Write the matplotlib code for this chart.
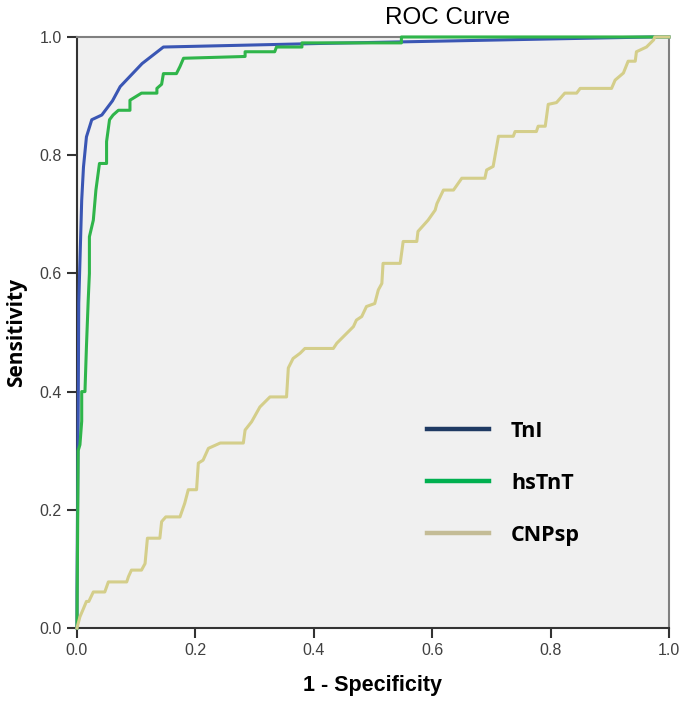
import matplotlib.pyplot as plt
from matplotlib.lines import Line2D

# ROC points (1 - specificity, sensitivity)
tni_fpr = [0.0, 0.0, 0.002, 0.003, 0.005, 0.008, 0.011, 0.016, 0.025, 0.042, 0.06, 0.073,
           0.11, 0.146, 0.41, 0.97, 1.0]
tni_tpr = [0.0, 0.06, 0.35, 0.55, 0.62, 0.724, 0.78, 0.831, 0.86, 0.868, 0.892, 0.916,
           0.955, 0.983, 0.989, 1.0, 1.0]

hs_fpr = [0.0, 0.002, 0.005, 0.008, 0.008, 0.0135, 0.016, 0.019, 0.021, 0.021, 0.0276,
          0.032, 0.038, 0.05, 0.05, 0.055, 0.061, 0.07, 0.0895, 0.0895, 0.109, 0.135,
          0.135, 0.143, 0.146, 0.168, 0.174, 0.18, 0.284, 0.284, 0.334, 0.337, 0.38,
          0.38, 0.548, 0.548, 1.0]
hs_tpr = [0.0, 0.30, 0.31, 0.35, 0.40, 0.40, 0.476, 0.555, 0.60, 0.662, 0.69,
          0.741, 0.786, 0.786, 0.823, 0.86, 0.868, 0.876, 0.876, 0.893, 0.905, 0.905,
          0.913, 0.92, 0.938, 0.938, 0.95, 0.964, 0.967, 0.975, 0.975, 0.983, 0.983,
          0.99, 0.99, 1.0, 1.0]

cnp_fpr = [0.0, 0.005, 0.011, 0.016, 0.02, 0.0276, 0.047, 0.053, 0.084, 0.087, 0.092, 0.109,
           0.115, 0.119, 0.14, 0.143, 0.15, 0.174, 0.182, 0.188, 0.202, 0.205, 0.213,
           0.222, 0.242, 0.281, 0.284, 0.295, 0.309, 0.326, 0.354, 0.357, 0.365, 0.377,
           0.385, 0.433, 0.439, 0.467, 0.472, 0.481, 0.489, 0.503, 0.509, 0.515, 0.517,
           0.546, 0.551, 0.574, 0.576, 0.593, 0.605, 0.608, 0.619, 0.636, 0.65, 0.689,
           0.692, 0.703, 0.712, 0.737, 0.74, 0.776, 0.779, 0.791, 0.796, 0.81, 0.824,
           0.844, 0.85, 0.903, 0.909, 0.923, 0.931, 0.943, 0.945, 0.962, 0.974, 0.976, 1.0]
cnp_tpr = [0.0, 0.019, 0.033, 0.045, 0.045, 0.061, 0.061, 0.078, 0.078, 0.087, 0.098, 0.098,
           0.109, 0.152, 0.152, 0.18, 0.188, 0.188, 0.211, 0.234, 0.234, 0.279, 0.284,
           0.304, 0.313, 0.313, 0.335, 0.349, 0.374, 0.391, 0.391, 0.44, 0.456, 0.465,
           0.473, 0.473, 0.482, 0.51, 0.521, 0.527, 0.544, 0.549, 0.572, 0.583, 0.617,
           0.617, 0.654, 0.654, 0.671, 0.690, 0.707, 0.718, 0.741, 0.741, 0.761, 0.761,
           0.775, 0.781, 0.832, 0.832, 0.84, 0.84, 0.849, 0.849, 0.886, 0.889, 0.905,
           0.905, 0.913, 0.913, 0.927, 0.939, 0.959, 0.959, 0.975, 0.983, 0.995, 1.0, 1.0]

labels = ['TnI', 'hsTnT', 'CNPsp']
curve_colors = ['#3a56b4', '#2fb54a', '#d4ce8a']
legend_colors = ['#1f3a63', '#00b050', '#c4bc96']
ticks = [0.0, 0.2, 0.4, 0.6, 0.8, 1.0]

fig = plt.figure(figsize=(6.86, 7.07), dpi=100)
ax = fig.add_axes([0.1122, 0.1117, 0.863, 0.836])
ax.set_facecolor('#f0f0f0')

for fpr, tpr, c in zip([tni_fpr, hs_fpr, cnp_fpr], [tni_tpr, hs_tpr, cnp_tpr], curve_colors):
    ax.plot(fpr, tpr, color=c, lw=2.2, clip_on=False, zorder=3)

ax.set_xlim(0, 1)
ax.set_ylim(0, 1)
ax.set_xticks(ticks)
ax.set_yticks(ticks)
ax.set_xticklabels([f'{t:.1f}' for t in ticks])
ax.set_yticklabels([f'{t:.1f}' for t in ticks])
ax.tick_params(length=7, width=1.5, color='#333333', labelsize=11.5,
               labelcolor='#404040', pad=4)
for lab in ax.get_xticklabels() + ax.get_yticklabels():
    lab.set_family('Liberation Sans')

for side in ['left', 'bottom']:
    ax.spines[side].set_color('#333333')
    ax.spines[side].set_linewidth(1.5)
for side in ['top', 'right']:
    ax.spines[side].set_color('#808080')
    ax.spines[side].set_linewidth(1.5)

ax.set_xlabel('1 - Specificity', fontsize=15.5, fontweight='bold',
              family='Liberation Sans', labelpad=12)
ax.set_ylabel('Sensitivity', fontsize=15, fontweight='bold',
              family='Open Sans', labelpad=9)
fig.text(0.653, 0.975, 'ROC Curve', fontsize=17.5, family='Liberation Sans',
         ha='center', va='center')

# legend sits in the lower right of the plot area, rows widely spaced
handles = [Line2D([], [], color=c, lw=3.2) for c in legend_colors]
ax.legend(handles, labels, loc='center left', bbox_to_anchor=(0.573, 0.245),
          frameon=False, borderpad=0, handlelength=2.9, handletextpad=1.0,
          labelspacing=1.45, prop={'family': 'Open Sans', 'weight': 'bold', 'size': 15.5})

fig.savefig('out.png', dpi=100)
